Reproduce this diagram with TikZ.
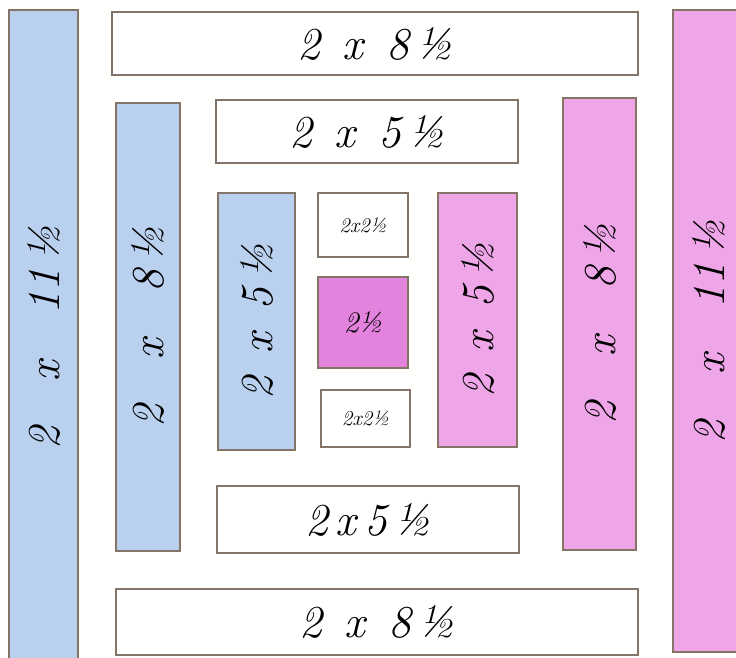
\documentclass[tikz,border=0pt]{standalone}
\usepackage{fontspec}
\usetikzlibrary{positioning}
\definecolor{seam}{HTML}{857568}
\definecolor{paper}{HTML}{FFFFFD}
\definecolor{skyblue}{HTML}{BAD0EF}
\definecolor{orchid}{HTML}{EEA6E8}
\definecolor{magentasq}{HTML}{E483DD}

\begin{document}
\begin{tikzpicture}[
    x=0.02cm,y=-0.02cm,
    font=\itshape\fontsize{26}{28}\selectfont,
    strip/.style={draw=seam,line width=1.1pt,fill=white,inner sep=0pt},
    bluestrip/.style={strip,fill=skyblue,rotate=90},
    pinkstrip/.style={strip,fill=orchid,rotate=90},
    tiny/.style={font=\itshape\fontsize{12}{13}\selectfont}
  ]
  \fill[paper] (0,0) rectangle (736,658);
  \useasboundingbox (0,0) rectangle (736,658);
  \begin{scope}
    \clip (0,0) rectangle (736,658);
    % outer ring
    \node[bluestrip,minimum height=1.38cm,minimum width=13.1cm] (outerleft) at (43.5,337.5) {2\quad x\quad 11\,½};
    \node[pinkstrip,minimum height=1.44cm,minimum width=12.84cm] (outerright) at (709,331) {2\quad x\quad 11\,½};
    \node[strip,minimum width=10.52cm,minimum height=1.26cm] (outertop) at (375,43.5) {2\enspace x\enspace 8\,½};
    \node[strip,minimum width=10.46cm,minimum height=1.32cm] (outerbottom) at (377,622) {2\enspace x\enspace 8\,½};
    % middle ring
    \node[bluestrip,minimum height=1.28cm,minimum width=8.96cm] (midleft) at (148,327) {2\quad x\quad 8\,½};
    \node[pinkstrip,minimum height=1.46cm,minimum width=9.04cm] (midright) at (599.5,324) {2\quad x\quad 8\,½};
    \node[strip,minimum width=6.04cm,minimum height=1.26cm] (midtop) at (367,131.5) {2\enspace x\enspace 5\,½};
    \node[strip,minimum width=6.04cm,minimum height=1.34cm] (midbottom) at (368,519.5) {2\,x\,5\,½};
    % inner ring
    \node[bluestrip,minimum height=1.54cm,minimum width=5.14cm] (innerleft) at (256.5,321.5) {2\enspace x\enspace 5\,½};
    \node[pinkstrip,minimum height=1.58cm,minimum width=5.08cm] (innerright) at (477.5,320) {2\enspace x\enspace 5\,½};
    \node[strip,tiny,minimum width=1.8cm,minimum height=1.28cm] (innertop) at (363,225) {2x2½};
    \node[strip,tiny,minimum width=1.78cm,minimum height=1.14cm] (innerbottom) at (365.5,418.5) {2x2½};
    % centre square
    \node[strip,fill=magentasq,minimum width=1.8cm,minimum height=1.82cm,
      font=\itshape\fontsize{17}{18}\selectfont] (centre) at (363,322.5) {2½};
  \end{scope}
\end{tikzpicture}
\end{document}
